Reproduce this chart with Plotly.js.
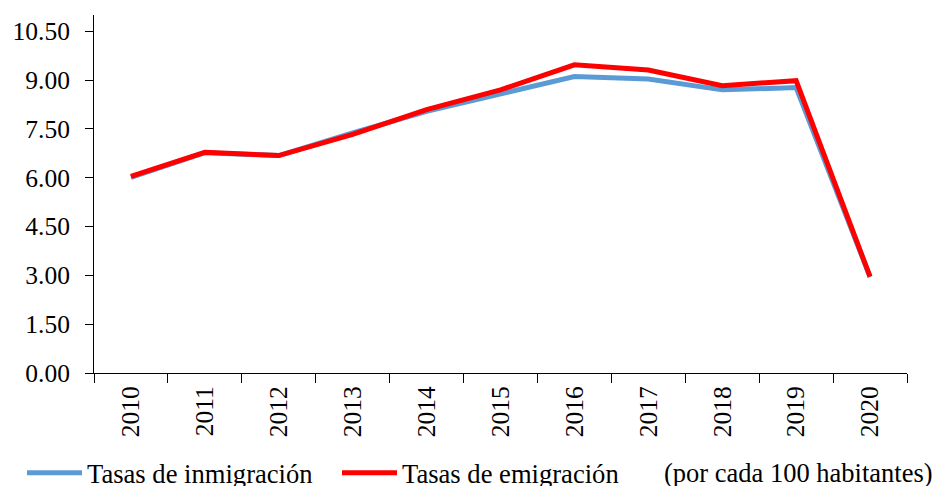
<!DOCTYPE html>
<html>
<head>
<meta charset="utf-8">
<script src="https://cdn.plot.ly/plotly-3.0.1.min.js"></script>
<style>html,body{margin:0;padding:0;background:#fff;}#chart{width:936px;height:486px;}</style>
</head>
<body>
<div id="chart"></div>
<script>
const years = ['2010','2011','2012','2013','2014','2015','2016','2017','2018','2019','2020'];
const inmigracion = [6.01, 6.77, 6.68, 7.38, 8.04, 8.57, 9.11, 9.03, 8.70, 8.77, 2.95];
const emigracion = [6.04, 6.78, 6.68, 7.33, 8.09, 8.70, 9.47, 9.31, 8.83, 8.98, 2.96];
const yTicks = [0, 1.5, 3, 4.5, 6, 7.5, 9, 10.5];
const nameIn = 'Tasas de inmigración';
const nameEm = 'Tasas de emigración';
const note = '(por cada 100 habitantes)';

const FONT = '"Liberation Serif", "Times New Roman", serif';

const traces = [
  {x: years, y: inmigracion, type: 'scatter', mode: 'lines', name: nameIn,
   line: {color: '#5B9BD5', width: 5}, legend: 'legend'},
  {x: years, y: emigracion, type: 'scatter', mode: 'lines', name: nameEm,
   line: {color: '#FF0000', width: 5}, legend: 'legend2'}
];

const legendBase = {orientation: 'h', xref: 'container', yref: 'container',
  xanchor: 'left', yanchor: 'middle', itemwidth: 55, bgcolor: 'rgba(0,0,0,0)',
  font: {family: FONT, size: 26.6, color: '#000'}};

const layout = {
  width: 936, height: 486,
  margin: {l: 94, r: 29, t: 15, b: 113},
  paper_bgcolor: '#fff', plot_bgcolor: '#fff',
  font: {family: FONT, size: 25.5, color: '#000'},
  showlegend: true,
  xaxis: {type: 'category', showline: true, linecolor: '#000', linewidth: 1,
    ticks: 'outside', ticklen: 9, tickcolor: '#000', tickson: 'boundaries',
    tickangle: -90, showgrid: false, zeroline: false, fixedrange: true,
    ticklabelstandoff: 2, range: [-0.5, 10.5],
    tickfont: {family: FONT, size: 25.5, color: '#000'}},
  yaxis: {range: [0, 11], tickvals: yTicks, tickformat: '.2f', showline: true,
    linecolor: '#000', linewidth: 1, ticks: 'outside', ticklen: 8, tickcolor: '#000',
    showgrid: false, zeroline: false, fixedrange: true, ticklabelstandoff: 10,
    tickfont: {family: FONT, size: 25.5, color: '#000'}},
  legend: Object.assign({}, legendBase, {x: 22/936, y: 13/486}),
  legend2: Object.assign({}, legendBase, {x: 337/936, y: 13/486}),
  annotations: [{text: note, xref: 'paper', yref: 'paper', x: (662-94)/813, y: -(473-373)/358,
    xanchor: 'left', yanchor: 'middle', showarrow: false,
    font: {family: FONT, size: 26.5, color: '#000'}}]
};

Plotly.newPlot('chart', traces, layout, {displayModeBar: false, staticPlot: true});
</script>
</body>
</html>
